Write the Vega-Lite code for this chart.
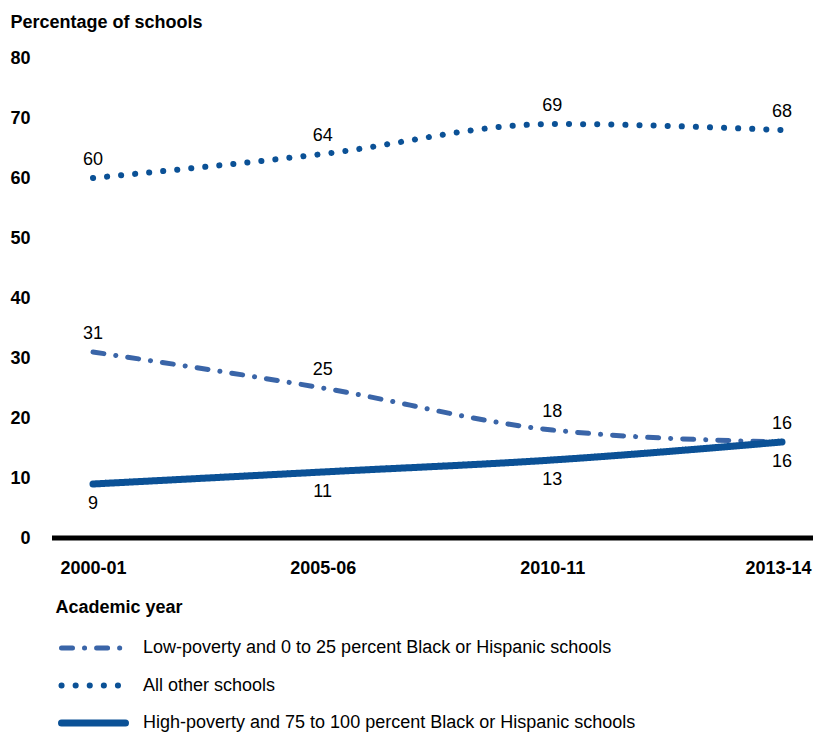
{
  "$schema": "https://vega.github.io/schema/vega-lite/v6.json",
  "width": 761,
  "height": 480,
  "autosize": "none",
  "padding": {"left": 52, "top": 58, "right": 0, "bottom": 196},
  "background": "white",
  "config": {"view": {"stroke": null}, "font": "Liberation Sans"},
  "data": {
    "values": [
      {"year": "2000-01", "group": "Low-poverty and 0 to 25 percent Black or Hispanic schools", "pct": 31},
      {"year": "2005-06", "group": "Low-poverty and 0 to 25 percent Black or Hispanic schools", "pct": 25},
      {"year": "2010-11", "group": "Low-poverty and 0 to 25 percent Black or Hispanic schools", "pct": 18},
      {"year": "2013-14", "group": "Low-poverty and 0 to 25 percent Black or Hispanic schools", "pct": 16},
      {"year": "2000-01", "group": "All other schools", "pct": 60},
      {"year": "2005-06", "group": "All other schools", "pct": 64},
      {"year": "2010-11", "group": "All other schools", "pct": 69},
      {"year": "2013-14", "group": "All other schools", "pct": 68},
      {"year": "2000-01", "group": "High-poverty and 75 to 100 percent Black or Hispanic schools", "pct": 9},
      {"year": "2005-06", "group": "High-poverty and 75 to 100 percent Black or Hispanic schools", "pct": 11},
      {"year": "2010-11", "group": "High-poverty and 75 to 100 percent Black or Hispanic schools", "pct": 13},
      {"year": "2013-14", "group": "High-poverty and 75 to 100 percent Black or Hispanic schools", "pct": 16}
    ]
  },
  "layer": [
    {
      "mark": {"type": "line", "interpolate": "monotone", "strokeCap": "round"},
      "transform": [{"filter": "datum.group !== 'High-poverty and 75 to 100 percent Black or Hispanic schools'"}],
      "encoding": {
        "x": {
          "field": "year", "type": "ordinal",
          "scale": {"type": "point", "domain": ["2000-01", "2005-06", "2010-11", "2013-14"], "range": [41, 730], "padding": 0},
          "axis": {
            "title": "Academic year", "domain": false, "ticks": false, "tickSize": 0,
            "labelAngle": 0, "labelFontSize": 18, "labelFontWeight": "bold", "labelColor": "#000",
            "labelPadding": 21, "labelFont": "Liberation Sans",
            "labelOffset": {"condition": {"test": "datum.value === '2013-14'", "value": -4}, "value": 0},
            "titleFontSize": 18, "titleFontWeight": "bold", "titleColor": "#000", "titleFont": "Liberation Sans",
            "titleAnchor": "start", "titleAlign": "left", "titleX": 3, "titleY": 69, "titleBaseline": "middle"
          }
        },
        "y": {
          "field": "pct", "type": "quantitative",
          "scale": {"domain": [0, 80], "nice": false},
          "axis": {
            "title": "Percentage of schools", "values": [0, 10, 20, 30, 40, 50, 60, 70, 80],
            "domain": false, "ticks": false, "tickSize": 0, "grid": false,
            "labelFontSize": 18, "labelFontWeight": "bold", "labelColor": "#000", "labelPadding": 22,
            "labelFont": "Liberation Sans",
            "titleAngle": 0, "titleAlign": "left", "titleBaseline": "middle", "titleX": -42, "titleY": -36,
            "titleFontSize": 18, "titleFontWeight": "bold", "titleColor": "#000", "titleFont": "Liberation Sans"
          }
        },
        "color": {
          "field": "group", "type": "nominal",
          "scale": {
            "domain": ["Low-poverty and 0 to 25 percent Black or Hispanic schools", "All other schools", "High-poverty and 75 to 100 percent Black or Hispanic schools"],
            "range": ["#3a65a8", "#0b5196", "#0b5196"]
          },
          "legend": {
            "orient": "none", "legendX": 6, "legendY": 580, "title": null, "direction": "vertical",
            "symbolType": "stroke", "symbolSize": 4096, "clipHeight": 20, "rowPadding": 17.5,
            "labelOffset": 14, "labelFontSize": 18, "labelFont": "Liberation Sans", "labelColor": "#000",
            "labelLimit": 700, "padding": 0,
            "encode": {"symbols": {"update": {"strokeCap": {"value": "round"}}}}
          }
        },
        "strokeDash": {
          "field": "group", "type": "nominal",
          "scale": {
            "domain": ["Low-poverty and 0 to 25 percent Black or Hispanic schools", "All other schools", "High-poverty and 75 to 100 percent Black or Hispanic schools"],
            "range": [[11, 12, 0.1, 12], [0.1, 14], [1, 0]]
          }
        },
        "strokeWidth": {
          "field": "group", "type": "nominal",
          "scale": {
            "domain": ["Low-poverty and 0 to 25 percent Black or Hispanic schools", "All other schools", "High-poverty and 75 to 100 percent Black or Hispanic schools"],
            "range": [5, 7, 8]
          }
        }
      }
    },
    {
      "mark": {"type": "line", "interpolate": "monotone", "strokeCap": "round"},
      "transform": [{"filter": "datum.group === 'High-poverty and 75 to 100 percent Black or Hispanic schools'"}],
      "encoding": {
        "x": {"field": "year", "type": "ordinal"},
        "y": {"field": "pct", "type": "quantitative"},
        "color": {"field": "group", "type": "nominal"},
        "strokeDash": {"field": "group", "type": "nominal"},
        "strokeWidth": {"field": "group", "type": "nominal"}
      }
    },
    {
      "mark": {"type": "rule", "color": "#000", "strokeWidth": 5},
      "transform": [{"filter": "datum.year === '2000-01' && datum.group === 'All other schools'"}],
      "encoding": {"y": {"datum": 0, "type": "quantitative"}}
    },
    {
      "mark": {"type": "text", "fontSize": 18, "font": "Liberation Sans", "color": "#000", "baseline": "middle", "dy": -18},
      "transform": [{"filter": "datum.group !== 'High-poverty and 75 to 100 percent Black or Hispanic schools'"}],
      "encoding": {
        "x": {"field": "year", "type": "ordinal"},
        "y": {"field": "pct", "type": "quantitative"},
        "text": {"field": "pct", "type": "quantitative"}
      }
    },
    {
      "mark": {"type": "text", "fontSize": 18, "font": "Liberation Sans", "color": "#000", "baseline": "middle", "dy": 20},
      "transform": [{"filter": "datum.group === 'High-poverty and 75 to 100 percent Black or Hispanic schools'"}],
      "encoding": {
        "x": {"field": "year", "type": "ordinal"},
        "y": {"field": "pct", "type": "quantitative"},
        "text": {"field": "pct", "type": "quantitative"}
      }
    }
  ]
}
